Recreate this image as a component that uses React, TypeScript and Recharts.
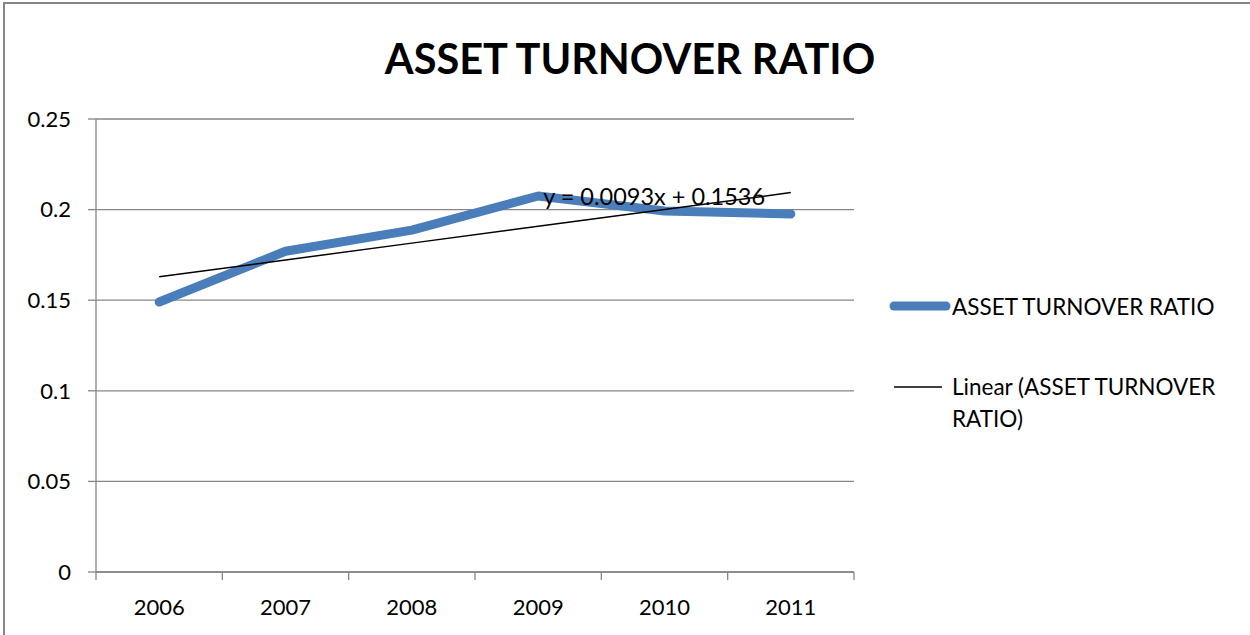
import React from 'react';
import { LineChart, Line, XAxis, YAxis, CartesianGrid, Legend, ReferenceDot } from 'recharts';

const categories = ['2006', '2007', '2008', '2009', '2010', '2011'];
const ratioValues = [0.149, 0.177, 0.1887, 0.2075, 0.1992, 0.1976];
const trendValues = [0.1629, 0.1722, 0.1815, 0.1908, 0.2001, 0.2094];
const yTicks = [0, 0.05, 0.1, 0.15, 0.2, 0.25];
const bandEdges = [0.5, 1.5, 2.5, 3.5, 4.5, 5.5, 6.5];
const bandCenters = [1, 2, 3, 4, 5, 6];
const titleText = 'ASSET TURNOVER RATIO';
const seriesName = 'ASSET TURNOVER RATIO';
const trendName = 'Linear (ASSET TURNOVER RATIO)';
const equationText = 'y = 0.0093x + 0.1536';
const equationAnchorIndex = 4;
const equationAnchorValue = 0.2075;

const data = categories.map((c, i) => ({
  idx: i + 1,
  year: c,
  ratio: ratioValues[i],
  trend: trendValues[i],
}));

const FONT = 'Lato, "Noto Sans", sans-serif';
const BLUE = '#4A7EBB';
const GRID = '#868686';

const renderLegend = () => (
  <div style={{ fontFamily: FONT, fontSize: 22.5, color: '#000', width: 364 }}>
    <div style={{ display: 'flex', alignItems: 'center', height: 34 }}>
      <svg width={66} height={14} style={{ flex: 'none' }}>
        <line x1={8} y1={7} x2={60} y2={7} stroke={BLUE} strokeWidth={9} strokeLinecap="round" />
      </svg>
      <span>{seriesName}</span>
    </div>
    <div style={{ display: 'flex', alignItems: 'flex-start', marginTop: 48 }}>
      <svg width={66} height={32} style={{ flex: 'none' }}>
        <line x1={8} y1={16} x2={56} y2={16} stroke="#000" strokeWidth={1.5} />
      </svg>
      <span style={{ width: 290, lineHeight: '32px' }}>{trendName}</span>
    </div>
  </div>
);

const EquationLabel = (props: any) => {
  const vb = props.viewBox || {};
  return (
    <text
      x={vb.x + 5}
      y={vb.y}
      dominantBaseline="central"
      fontFamily={FONT}
      fontSize={23.5}
      fill="#000"
    >
      {equationText}
    </text>
  );
};

export default function App() {
  return (
    <div style={{ position: 'relative', width: 1250, height: 635, background: '#fff', overflow: 'hidden' }}>
      <style>{'body{margin:0;}'}</style>
      <div
        style={{
          position: 'absolute',
          left: 3,
          top: 2,
          width: 1260,
          height: 700,
          borderTop: `2px solid ${GRID}`,
          borderLeft: `2px solid ${GRID}`,
        }}
      />
      <div
        style={{
          position: 'absolute',
          left: 0,
          width: 1260,
          top: 30,
          textAlign: 'center',
          fontFamily: FONT,
          fontWeight: 700,
          fontSize: 41.5,
          lineHeight: '56px',
          color: '#000',
        }}
      >
        {titleText}
      </div>
      <div style={{ position: 'absolute', left: 0, top: 0 }}>
        <LineChart
          width={1250}
          height={635}
          data={data}
          margin={{ top: 119, right: 32, bottom: 0, left: 0 }}
        >
          <CartesianGrid xAxisId={0} horizontal={true} vertical={false} stroke={GRID} strokeWidth={1.3} />
          <XAxis
            xAxisId={0}
            dataKey="idx"
            type="number"
            domain={[0.5, 6.5]}
            ticks={bandEdges}
            tickFormatter={() => ''}
            axisLine={{ stroke: GRID, strokeWidth: 1.3 }}
            tickLine={{ stroke: GRID, strokeWidth: 1.3 }}
            tickSize={8}
            height={8}
            interval={0}
          />
          <XAxis
            xAxisId={1}
            dataKey="idx"
            type="number"
            domain={[0.5, 6.5]}
            ticks={bandCenters}
            tickFormatter={(v: number) => categories[v - 1]}
            axisLine={false}
            tickLine={false}
            tickSize={0}
            tickMargin={19}
            height={55}
            interval={0}
            tick={{ fontFamily: FONT, fontSize: 22, fill: '#000' }}
          />
          <YAxis
            type="number"
            domain={[0, 0.25]}
            ticks={yTicks}
            width={96}
            axisLine={{ stroke: GRID, strokeWidth: 1.3 }}
            tickLine={{ stroke: GRID, strokeWidth: 1.3 }}
            tickSize={8}
            tickMargin={17}
            interval={0}
            tick={{ fontFamily: FONT, fontSize: 22, fill: '#000' }}
          />
          <Legend
            layout="vertical"
            align="right"
            verticalAlign="middle"
            content={renderLegend}
            wrapperStyle={{ position: 'absolute', left: 886, top: 289, width: 364 }}
          />
          <Line
            xAxisId={0}
            type="linear"
            dataKey="ratio"
            name={seriesName}
            stroke={BLUE}
            strokeWidth={9}
            strokeLinecap="round"
            strokeLinejoin="round"
            dot={false}
            isAnimationActive={false}
          />
          <Line
            xAxisId={0}
            type="linear"
            dataKey="trend"
            name={trendName}
            stroke="#000"
            strokeWidth={1.5}
            dot={false}
            isAnimationActive={false}
          />
          <ReferenceDot
            xAxisId={0}
            x={equationAnchorIndex}
            y={equationAnchorValue}
            r={0}
            ifOverflow="visible"
            label={<EquationLabel />}
          />
        </LineChart>
      </div>
    </div>
  );
}
